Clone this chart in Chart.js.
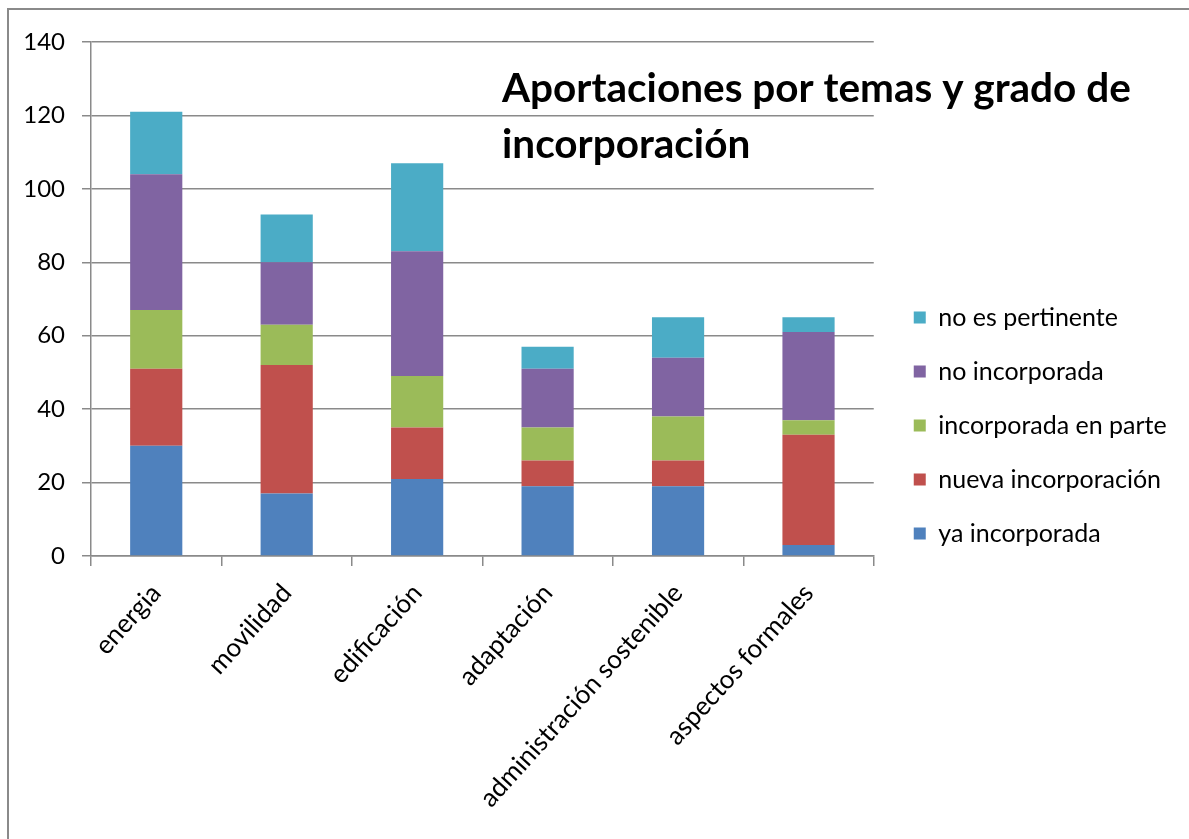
<!DOCTYPE html>
<html>
<head>
<meta charset="utf-8">
<script src="https://cdn.jsdelivr.net/npm/chart.js@4"></script>
<style>
  html, body { margin: 0; padding: 0; background: #ffffff; overflow: hidden; }
  #frame { position: absolute; left: 7px; top: 8px; width: 1300px; height: 900px;
           border-left: 2px solid #8a8a8a; border-top: 2px solid #8a8a8a; }
  #wrap { position: absolute; left: 0; top: 0; width: 1189px; height: 839px; }
</style>
</head>
<body>
<div id="frame"></div>
<div id="wrap"><canvas id="c" width="1189" height="839"></canvas></div>
<script>
const categories = ["energia", "movilidad", "edificación", "adaptación", "administración sostenible", "aspectos formales"];
const seriesNames = ["ya incorporada", "nueva incorporación", "incorporada en parte", "no incorporada", "no es pertinente"];
const yaIncorporada       = [30, 17, 21, 19, 19, 3];
const nuevaIncorporacion  = [21, 35, 14, 7, 7, 30];
const incorporadaEnParte  = [16, 11, 14, 9, 12, 4];
const noIncorporada       = [37, 17, 34, 16, 16, 24];
const noEsPertinente      = [17, 13, 24, 6, 11, 4];
const seriesColors = ["#4F81BD", "#C0504D", "#9BBB59", "#8064A2", "#4BACC6"];
const titleLines = ["Aportaciones por temas y grado de", "incorporación"];
const yTicks = [0, 20, 40, 60, 80, 100, 120, 140];

const seriesValues = [yaIncorporada, nuevaIncorporacion, incorporadaEnParte, noIncorporada, noEsPertinente];
const FONT = "Lato";
const LEGEND_SHIFT = 11;

const titlePlugin = {
  id: 'overlayTitle',
  afterDraw(chart) {
    const ctx = chart.ctx;
    ctx.save();
    ctx.font = "bold 40.5px " + FONT;
    ctx.fillStyle = "#000000";
    ctx.textBaseline = "alphabetic";
    ctx.textAlign = "left";
    ctx.fillText(titleLines[0], 502, 102);
    ctx.fillText(titleLines[1], 502, 158);
    ctx.restore();
  }
};

const legendShift = {
  id: 'legendShift',
  afterLayout(chart) {
    if (chart.legend) {
      chart.legend.left += LEGEND_SHIFT;
      chart.legend.right += LEGEND_SHIFT;
    }
  }
};

new Chart(document.getElementById('c'), {
  type: 'bar',
  data: {
    labels: categories,
    datasets: seriesNames.map((name, i) => ({
      label: name,
      data: seriesValues[i],
      backgroundColor: seriesColors[i],
      borderWidth: 0,
      barPercentage: 0.4,
      categoryPercentage: 1.0
    }))
  },
  options: {
    responsive: false,
    animation: false,
    layout: { padding: { left: 0, top: 42, right: 24, bottom: 30 } },
    plugins: {
      title: { display: false },
      tooltip: { enabled: false },
      legend: {
        position: 'right',
        align: 'center',
        reverse: true,
        labels: {
          boxWidth: 12,
          boxHeight: 12,
          padding: 29,
          color: '#000000',
          font: { family: FONT, size: 25 }
        }
      }
    },
    scales: {
      x: {
        stacked: true,
        grid: { display: true, drawOnChartArea: false, drawTicks: true, tickLength: 10, color: '#8a8a8a', lineWidth: 1.5 },
        border: { display: true, color: '#8a8a8a', width: 1.5 },
        ticks: { color: '#000000', font: { family: FONT, size: 26 }, maxRotation: 48, minRotation: 48, padding: 12, labelOffset: 0 },
        afterFit(scale) { scale.height = 839 - 556 - 30; }
      },
      y: {
        stacked: true,
        min: 0,
        max: 140,
        afterBuildTicks(scale) { scale.ticks = yTicks.map(v => ({ value: v })); },
        grid: { color: '#8a8a8a', lineWidth: 1.5, drawTicks: true, tickLength: 9 },
        border: { display: true, color: '#8a8a8a', width: 1.5 },
        ticks: { color: '#000000', font: { family: FONT, size: 24 }, padding: 17 },
        afterFit(scale) { scale.width = 91; }
      }
    }
  },
  plugins: [titlePlugin, legendShift]
});
</script>
</body>
</html>
